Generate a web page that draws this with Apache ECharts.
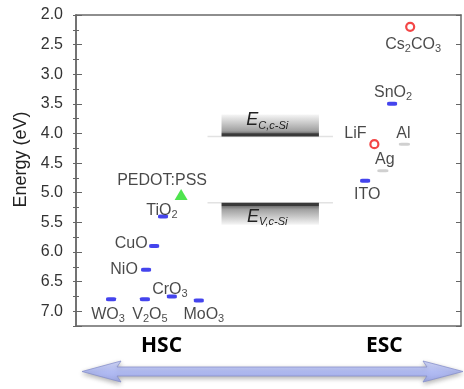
<!DOCTYPE html>
<html><head><meta charset="utf-8">
<script src="https://cdn.jsdelivr.net/npm/echarts@6/dist/echarts.min.js"></script>
<style>html,body{margin:0;padding:0;background:#fff}#c{width:464px;height:389px}</style>
</head><body><div id="c"></div>
<script>
// ---- data ----
const yTicks = ['2.0','2.5','3.0','3.5','4.0','4.5','5.0','5.5','6.0','6.5','7.0'];
const blueNames = ['{m|WO}{s|3}','{m|V}{s|2}{m|O}{s|5}','{m|CrO}{s|3}','{m|MoO}{s|3}','{m|NiO}','{m|CuO}','{m|TiO}{s|2}','{m|ITO}','{m|SnO}{s|2}'];
const blueX = [9.1, 17.9, 24.9, 31.9, 18.2, 20.3, 22.6, 75.1, 82.1];
const blueE = [6.80, 6.80, 6.75, 6.82, 6.30, 5.90, 5.40, 4.80, 3.50];
const grayNames = ['{m|Ag}','{m|Al}'];
const grayX = [79.7, 85.3];
const grayE = [4.63, 4.18];
const redNames = ['{m|Cs}{s|2}{m|CO}{s|3}','{m|LiF}'];
const redX = [86.8, 77.5];
const redE = [2.20, 4.18];
const greenNames = ['{m|PEDOT:PSS}'];
const greenX = [27.3];
const greenE = [5.03];
const bandNames = ['{e|E}{s|C,c-Si}','{e|E}{s|V,c-Si}'];
const bandX0 = [37.8, 37.8];
const bandX1 = [63.1, 63.1];
const bandE = [4.05, 5.17];
const bandKind = ['C','V'];

// ---- label offsets (style) ----
const blueOff = [[-3,15],[5,15],[-2,-7],[5,14],[-22,0],[-23,-2],[-1,-6],[2,14],[1,-11]];
const grayOff = [[2,-11],[-1,-11]];
const redOff = [[3,18],[-19,-11]];
const greenOff = [[-19,-14]];

const FONT = '"Liberation Sans", Arial, sans-serif';
const rich = {
  m: {fontSize: 16, color: '#1a1a1a', fontFamily: FONT},
  s: {fontSize: 11, color: '#1a1a1a', fontFamily: FONT, padding: [9,0,0,0]}
};
function mkData(xs, es, names, offs) {
  return xs.map((x, i) => ({
    value: [x, es[i]],
    label: {offset: offs[i], formatter: names[i]}
  }));
}
const baseLabel = {show: true, position: 'inside', rich: rich};

const chart = echarts.init(document.getElementById('c'));
const yBase = {type: 'value', inverse: true, min: 2.0, max: 7.25, splitLine: {show: false}};
const frameLine = {show: true, onZero: false, lineStyle: {color: '#6a6a6a', width: 1.5}};
chart.setOption({
  animation: false,
  grid: {left: 76, right: 3, top: 15, bottom: 63},
  xAxis: [
    {type: 'value', min: 0, max: 100, position: 'bottom', axisLine: frameLine, axisTick: {show: false}, axisLabel: {show: false}, splitLine: {show: false}},
    {type: 'value', min: 0, max: 100, position: 'top', axisLine: frameLine, axisTick: {show: false}, axisLabel: {show: false}, splitLine: {show: false}}
  ],
  yAxis: [
    Object.assign({}, yBase, {
      position: 'left', interval: 0.5,
      name: 'Energy (eV)', nameLocation: 'middle', nameGap: 44, nameRotate: 90,
      nameTextStyle: {fontSize: 18, color: '#222', fontFamily: FONT, padding: [0,0,0,22]},
      axisLine: frameLine,
      axisTick: {show: true, inside: true, length: 6, lineStyle: {color: '#666'}},
      axisLabel: {margin: 13, fontSize: 16, color: '#333', fontFamily: FONT,
        formatter: v => { const s = v.toFixed(1); return yTicks.indexOf(s) >= 0 && Math.abs(v*2 - Math.round(v*2)) < 1e-6 ? s : ''; }}
    }),
    Object.assign({}, yBase, {
      position: 'left', interval: 0.25,
      axisLine: frameLine, axisLabel: {show: false},
      axisTick: {show: true, inside: true, length: 3, lineStyle: {color: '#666'}}
    }),
    Object.assign({}, yBase, {
      position: 'right', interval: 0.5,
      axisLine: frameLine, axisLabel: {show: false},
      axisTick: {show: true, inside: true, length: 5, lineStyle: {color: '#666'}}
    }),
    Object.assign({}, yBase, {
      position: 'right', interval: 0.25,
      axisLine: {show: false}, axisLabel: {show: false},
      axisTick: {show: true, inside: true, length: 3, lineStyle: {color: '#666'}}
    })
  ],
  series: [
    {
      type: 'custom', yAxisIndex: 0, z: 1,
      data: bandX0.map((x0, i) => [x0, bandX1[i], bandE[i], i]),
      renderItem: function (params, api) {
        const i = api.value(3);
        const p0 = api.coord([api.value(0), api.value(2)]);
        const p1 = api.coord([api.value(1), api.value(2)]);
        const h = 22;
        const isC = bandKind[i] === 'C';
        const top = isC ? p0[1] - h : p0[1];
        const w = p1[0] - p0[0];
        const grad = new echarts.graphic.LinearGradient(0, 0, 0, 1, isC ? [
          {offset: 0, color: '#f6f6f6'}, {offset: 0.75, color: '#a0a0a0'}, {offset: 0.86, color: '#707070'}, {offset: 0.87, color: '#3a3a3a'}, {offset: 1, color: '#3a3a3a'}
        ] : [
          {offset: 0, color: '#3a3a3a'}, {offset: 0.13, color: '#3a3a3a'}, {offset: 0.14, color: '#707070'}, {offset: 0.3, color: '#a0a0a0'}, {offset: 1, color: '#f6f6f6'}
        ]);
        const ext = 14;
        return {
          type: 'group',
          children: [
            {type: 'line', shape: {x1: p0[0] - ext, y1: p0[1], x2: p1[0] + ext, y2: p1[1]}, style: {stroke: '#e2e2e2', lineWidth: 1.5}},
            {type: 'rect', shape: {x: p0[0], y: top, width: w, height: h}, style: {fill: grad}},
            {type: 'text', x: p0[0] + w / 2 - 3, y: top + h / 2 + (isC ? -5 : 3),
              style: {text: bandNames[i], align: 'center', verticalAlign: 'middle',
                rich: {e: {fontSize: 18, fontStyle: 'italic', fontFamily: FONT, fill: '#222'},
                       s: {fontSize: 11, fontStyle: 'italic', fontFamily: FONT, fill: '#222', padding: [10,0,0,0]}}}}
          ]
        };
      }
    },
    {
      type: 'scatter', yAxisIndex: 0, symbol: 'roundRect', symbolSize: [10, 4],
      itemStyle: {color: '#1515e8'}, label: baseLabel,
      data: mkData(blueX, blueE, blueNames, blueOff)
    },
    {
      type: 'scatter', yAxisIndex: 0, symbol: 'roundRect', symbolSize: [11, 3],
      itemStyle: {color: '#c4c4c4'}, label: baseLabel,
      data: mkData(grayX, grayE, grayNames, grayOff)
    },
    {
      type: 'scatter', yAxisIndex: 0, symbol: 'circle', symbolSize: 8,
      itemStyle: {color: '#fff', borderColor: '#f01818', borderWidth: 2.2}, label: baseLabel,
      data: mkData(redX, redE, redNames, redOff)
    },
    {
      type: 'scatter', yAxisIndex: 0, symbol: 'triangle', symbolSize: [13, 11],
      itemStyle: {color: '#22dd22'}, label: baseLabel,
      data: mkData(greenX, greenE, greenNames, greenOff)
    }
  ],
  graphic: [
    {type: 'polygon', z: 10,
      shape: {points: [[82,371.5],[121,361],[117,367],[427,367],[423,361],[463,371.5],[423,382],[427,376],[117,376],[121,382]]},
      style: {fill: new echarts.graphic.LinearGradient(0,0,0,1,[{offset:0,color:'#d6dcfc'},{offset:0.5,color:'#b2bcf3'},{offset:1,color:'#a2ace8'}]),
        stroke: '#8890cc', lineWidth: 0.8, shadowBlur: 5, shadowColor: 'rgba(0,0,0,0.3)', shadowOffsetY: 2}},
    {type: 'text', left: 141, top: 336, z: 10,
      style: {text: 'HSC', fontSize: 21, fontWeight: 'bold', fontFamily: '"Open Sans", ' + FONT, fill: '#000',
        shadowBlur: 3, shadowColor: 'rgba(120,120,160,0.6)'}},
    {type: 'text', left: 366, top: 336, z: 10,
      style: {text: 'ESC', fontSize: 21, fontWeight: 'bold', fontFamily: '"Open Sans", ' + FONT, fill: '#000',
        shadowBlur: 3, shadowColor: 'rgba(120,120,160,0.6)'}}
  ]
});
</script></body></html>
